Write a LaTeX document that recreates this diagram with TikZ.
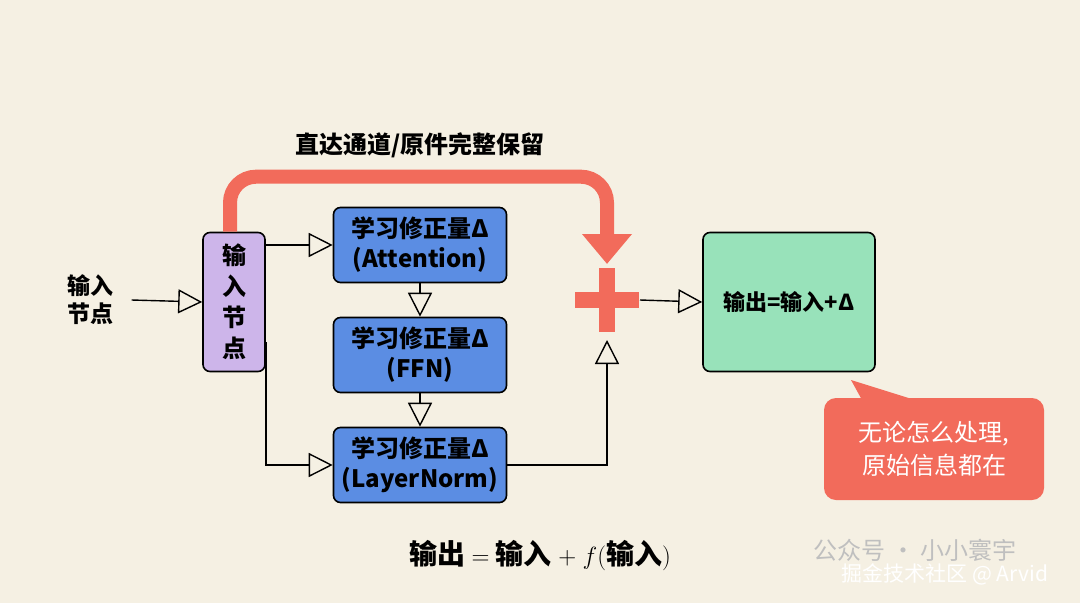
\documentclass[tikz,border=0pt]{standalone}
\usepackage{fontspec}
\setmainfont{Noto Sans CJK SC}
\usepackage{tikz}
\usetikzlibrary{arrows.meta,positioning,calc}
\definecolor{RESbg}{HTML}{F5F0E3}
\definecolor{RESred}{HTML}{F26B5B}
\definecolor{RESblue}{HTML}{5B8DE3}
\definecolor{RESpurple}{HTML}{CDB5EA}
\definecolor{RESgreen}{HTML}{98E2BA}
\tikzset{
  box/.style={draw=black, line width=1.6pt, rounded corners=7pt, align=center, inner sep=0pt},
  flow/.style={draw=black, line width=1.4pt, -{Triangle[open, length=24pt, width=24pt, line width=1.4pt]}},
  txt/.style={font=\fontsize{23}{28}\selectfont\bfseries, align=center},
  blue/.style={box, fill=RESblue, minimum width=173pt, minimum height=75pt, align=center, font=\fontsize{24}{30}\selectfont\bfseries},
}
\begin{document}
\begin{tikzpicture}[x=1pt, y=-1pt]
    \fill[RESbg] (0,0) rectangle (1080,603);
    \useasboundingbox (0,0) rectangle (1080,603);
	% input side
	\node[txt] (lbl) at (90,300) {输入\\节点};
	\node[box, fill=RESpurple, minimum width=62pt, minimum height=139pt, txt, font=\fontsize{24}{31}\selectfont\bfseries] (in) at (234,302) {输\\入\\节\\点};
	\draw[flow] (lbl.east) ++(15,0) -- (in.west);
	% learned corrections
	\node[blue] (att) at (420,245) {学习修正量Δ\\(Attention)};
	\node[blue] (ffn) at (420,355) {学习修正量Δ\\(FFN)};
	\node[blue] (ln) at (420,465) {学习修正量Δ\\(LayerNorm)};
	\draw[flow] (in.east |- att.west) -- (att.west);
	\draw[flow] (att) -- (ffn);
	\draw[flow] (ffn) -- (ln);
	\draw[flow] (in.east) ++(0,40) |- (ln.west);
	% sum
	\coordinate (sum) at (607,300);
	\fill[RESred] ($(sum)+(-32,-8)$) rectangle ($(sum)+(32,8)$);
	\fill[RESred] ($(sum)+(-8,-32)$) rectangle ($(sum)+(8,32)$);
	\draw[flow] (ln.east) -| ($(sum)+(0,40)$);
	% skip connection
	\draw[RESred, line width=14pt, rounded corners=26pt, -{Triangle[length=30pt, width=48pt]}]
	    ($(in.north)+(-4,0)$) -- ++(0,-55) -| ($(sum)+(0,-36)$);
	\node[txt, font=\fontsize{24}{28}\selectfont\bfseries] (skip) at (420,145) {直达通道/原件完整保留};
	% output
	\node[box, fill=RESgreen, minimum width=172pt, minimum height=139pt, txt, font=\fontsize{22}{26}\selectfont\bfseries] (out) at (789,302) {输出=输入+Δ};
	\draw[flow] ($(sum)+(33,0)$) -- (out.west);
	% callout
	\fill[RESred, rounded corners=12pt] (824,398) rectangle (1044,500);
	\fill[RESred] (851,380) -- (862,400) -- (915,400) -- cycle;
	\node[txt, white, font=\fontsize{24}{33}\selectfont] (note) at (934,449) {无论怎么处理,\\原始信息都在};
	% formula
	\node[txt, font=\fontsize{28}{32}\selectfont\bfseries] (eq) at (540,555) {输出 $=$ 输入 $+$ $f($输入$)$};
	\node[gray!50, font=\fontsize{24}{28}\selectfont] (wm1) at (915,550) {公众号 · 小小寰宇};
	\node[white, font=\fontsize{21}{26}\selectfont] (wm2) at (945,574) {掘金技术社区 @ Arvid};
\end{tikzpicture}
\end{document}
